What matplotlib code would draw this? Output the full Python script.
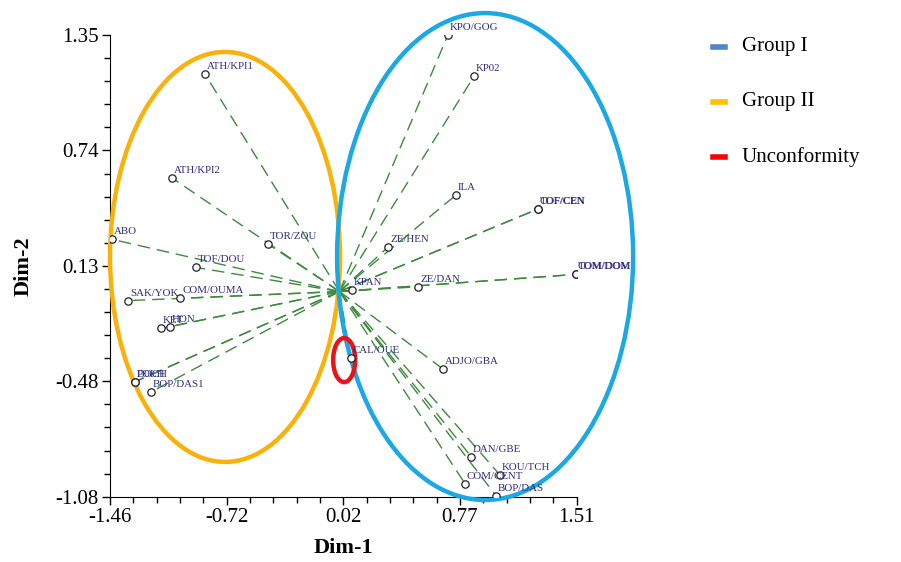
import numpy as np
import matplotlib
matplotlib.use("Agg")
import matplotlib.pyplot as plt
from matplotlib.patches import Ellipse
from matplotlib.lines import Line2D
from matplotlib.ticker import AutoMinorLocator

plt.rcParams['font.family'] = ['Liberation Serif', 'DejaVu Serif']

# site names and their coordinates on the two dimensions
sites = ["ATH/KPI1", "ATH/KPI2", "ABO", "TOR/ZOU", "TOF/DOU", "SAK/YOK", "COM/OUMA",
         "KET", "HON", "DOCH", "POLH", "BOP/DAS1", "KPAN", "ZE/HEN", "ZE/DAN", "CAL/OUE",
         "ADJO/GBA", "KPO/GOG", "KP02", "ILA", "TOF/CEN", "COF/CEN", "COM/DOM", "TOM/DOM",
         "DAN/GBE", "KOU/TCH", "COM/CENT", "BOP/DAS"]
dim1 = [-0.855, -1.063, -1.449, -0.452, -0.915, -1.343, -1.012,
        -1.133, -1.078, -1.301, -1.301, -1.199, 0.082, 0.312, 0.502, 0.072,
        0.662, 0.690, 0.859, 0.742, 1.262, 1.262, 1.504, 1.504,
        0.838, 1.022, 0.800, 0.997]
dim2 = [1.143, 0.596, 0.275, 0.248, 0.127, -0.048, -0.036,
        -0.194, -0.185, -0.475, -0.475, -0.529, 0.008, 0.236, 0.025, -0.352,
        -0.410, 1.350, 1.136, 0.508, 0.434, 0.434, 0.090, 0.090,
        -0.869, -0.966, -1.013, -1.076]

xticks = [-1.46, -0.72, 0.02, 0.77, 1.51]
yticks = [-1.08, -0.48, 0.13, 0.74, 1.35]

# group ellipses: (center x, center y, width, height, colour)
groups = [(-0.728, 0.182, 1.464, 2.158, "#f9b20c"),
          (0.927, 0.184, 1.884, 2.563, "#1ba8e3"),
          (0.030, -0.361, 0.140, 0.232, "#e8141b")]

legend_labels = ["Group I", "Group II", "Unconformity"]
legend_colors = ["#4f86c6", "#ffc000", "#ff0000"]

fig = plt.figure(figsize=(9.01, 5.62), dpi=100)
ax = fig.add_axes([0.1221, 0.1162, 0.518, 0.8215])

for x, y in zip(dim1, dim2):
    ax.plot([0, x], [0, y], color="#3d8a3d", lw=1.0, ls=(0, (9, 5)), zorder=2)

ax.scatter(dim1, dim2, s=28, facecolors="white", edgecolors="#222222", linewidths=0.9, zorder=4)

for name, x, y in zip(sites, dim1, dim2):
    ax.annotate(name, (x, y), xytext=(1.2, 2.2), textcoords="offset points",
                ha="left", va="bottom", fontsize=7.8, color="#2b2b78", zorder=5)

for cx, cy, w, h, c in groups:
    ax.add_patch(Ellipse((cx, cy), w, h, fill=False, edgecolor=c, lw=3.2,
                         clip_on=False, zorder=3))

ax.set_xlim(-1.46, 1.51)
ax.set_ylim(-1.08, 1.35)
ax.set_xticks(np.linspace(-1.46, 1.51, 5))
ax.set_xticklabels([f"{v:.2f}" for v in xticks])
ax.set_yticks(np.linspace(-1.08, 1.35, 5))
ax.set_yticklabels([f"{v:.2f}" for v in yticks])
ax.xaxis.set_minor_locator(AutoMinorLocator(5))
ax.yaxis.set_minor_locator(AutoMinorLocator(5))
ax.tick_params(which="major", length=6, width=1, labelsize=15, pad=2)
ax.tick_params(which="minor", length=4, width=1)
for s in ["top", "right"]:
    ax.spines[s].set_visible(False)
ax.set_xlabel("Dim-1", fontsize=16, fontweight="bold", labelpad=8)
ax.set_ylabel("Dim-2", fontsize=16, fontweight="bold", labelpad=16)

# legend drawn by hand to the right of the axes
for i, (lab, c) in enumerate(zip(legend_labels, legend_colors)):
    yc = 1 - (46.7 + i * 55) / 562
    fig.add_artist(Line2D([713 / 901, 725 / 901], [yc, yc], color=c, lw=4,
                          transform=fig.transFigure))
    fig.text(742 / 901, yc, lab, fontsize=15, va="center", ha="left")

fig.savefig("out.png", dpi=100, facecolor="white")
